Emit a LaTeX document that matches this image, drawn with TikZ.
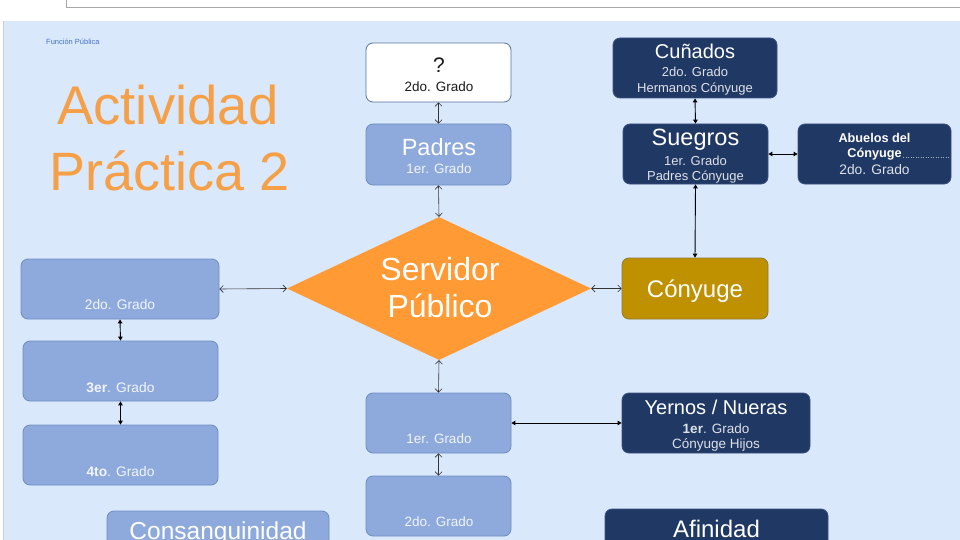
\documentclass[tikz,border=0pt]{standalone}
\usepackage{fontspec}
\setmainfont{Liberation Sans}
\usetikzlibrary{arrows.meta,shapes.geometric}
\definecolor{slidebg}{HTML}{DAE8FC}
\definecolor{lightfill}{HTML}{8EA9DB}
\definecolor{lightedge}{HTML}{6C8EBF}
\definecolor{darkfill}{HTML}{203864}
\definecolor{darkedge}{HTML}{3A5180}
\definecolor{goldfill}{HTML}{BF9000}
\definecolor{goldedge}{HTML}{8D7A34}
\definecolor{titleorange}{HTML}{F5A047}
\definecolor{diamondfill}{HTML}{FF9A35}
\definecolor{smallblue}{HTML}{4472C4}
\definecolor{wordsdark}{HTML}{1A1A1A}
\tikzset{
  box/.style={rounded corners=7pt, line width=0.8pt, inner sep=0pt},
  lbox/.style={box, fill=lightfill, draw=lightedge},
  dbox/.style={box, fill=darkfill, draw=darkedge},
  wbox/.style={box, fill=white, draw=lightedge!80!black},
  gbox/.style={box, fill=goldfill, draw=goldedge},
  txt/.style={anchor=base, inner sep=0pt, text=white},
  openlink/.style={line width=0.6pt, draw=black!80, {Straight Barb[length=3.5pt,width=7pt]}-{Straight Barb[length=3.5pt,width=7pt]}},
  filllink/.style={line width=0.9pt, draw=black, {Triangle[length=4pt,width=4.5pt]}-{Triangle[length=4pt,width=4.5pt]}},
}
\begin{document}
\begin{tikzpicture}[x=1pt,y=-1pt]
\useasboundingbox (0,0) rectangle (960,540);
\clip (0,0) rectangle (960,540);
% window chrome
\fill[white] (0,0) rectangle (960,21);
\draw[black!35, line width=0.8pt] (66,0) -- (66,7) -- (960,7);
\draw[black!25, line width=0.8pt] (3,21) -- (960,21);
\fill[slidebg] (3,21) rectangle (960,540);
\draw[black!20, line width=0.8pt] (3,21) -- (3,540);
% header texts
\node[anchor=base west, inner sep=0pt, text=smallblue, font=\fontsize{7.5}{9}\selectfont] (hdr) at (46,45) {Función Pública};
\node[anchor=base west, inner sep=0pt, text=titleorange, font=\fontsize{54.5}{60}\selectfont] (t1) at (57,125) {Actividad};
\node[anchor=base west, inner sep=0pt, text=titleorange, font=\fontsize{54}{60}\selectfont] (t2) at (49,190) {Práctica 2};
% centre column
\node[wbox, minimum width=145pt, minimum height=59pt] (q) at (438.5,72.5) {};
\node[txt, text=wordsdark, font=\fontsize{21}{24}\selectfont] at (439,73) {?};
\node[txt, text=wordsdark, font=\fontsize{13.5}{16}\selectfont] at (439,92) {2do. Grado};
\node[lbox, minimum width=145pt, minimum height=61pt] (pad) at (438.5,154.5) {};
\node[txt, font=\fontsize{23.5}{26}\selectfont] at (439,156) {Padres};
\node[txt, text=white!88!lightfill, font=\fontsize{13.5}{16}\selectfont] at (439,174) {1er. Grado};
\node[diamond, fill=diamondfill, minimum width=304pt, minimum height=143pt, inner sep=0pt, aspect=2.1] (sp) at (439,288.5) {};
\node[txt, font=\fontsize{32}{36}\selectfont] at (440,280) {Servidor};
\node[txt, font=\fontsize{32}{36}\selectfont] at (440,317) {Público};
\node[lbox, minimum width=145pt, minimum height=60pt] (h1) at (438.5,423) {};
\node[txt, text=white!88!lightfill, font=\fontsize{13.5}{16}\selectfont] at (439,443) {1er. Grado};
\node[lbox, minimum width=145pt, minimum height=60pt] (h2) at (438.5,506) {};
\node[txt, text=white!88!lightfill, font=\fontsize{13.5}{16}\selectfont] at (439,526) {2do. Grado};
% left column
\node[lbox, minimum width=198pt, minimum height=60pt] (l1) at (120,289) {};
\node[txt, text=white!88!lightfill, font=\fontsize{13.8}{16}\selectfont] at (120,309) {2do. Grado};
\node[lbox, minimum width=195pt, minimum height=60pt] (l2) at (120.5,371) {};
\node[txt, text=white!88!lightfill, font=\fontsize{13.8}{16}\selectfont] at (120.5,392) {\textbf{3er}. Grado};
\node[lbox, minimum width=195pt, minimum height=60pt] (l3) at (120.5,455) {};
\node[txt, text=white!88!lightfill, font=\fontsize{13.8}{16}\selectfont] at (120.5,476) {\textbf{4to}. Grado};
\node[lbox, minimum width=222pt, minimum height=50pt] (cons) at (218,536) {};
\node[txt, font=\fontsize{24.5}{28}\selectfont] at (218,539) {Consanguinidad};
% right side
\node[dbox, minimum width=164pt, minimum height=60pt] (cun) at (695,68) {};
\node[txt, font=\fontsize{20}{23}\selectfont] at (695,59) {Cuñados};
\node[txt, text=white!85!darkfill, font=\fontsize{13}{15}\selectfont] at (695,77) {2do. Grado};
\node[txt, text=white!85!darkfill, font=\fontsize{13}{15}\selectfont] at (695,93) {Hermanos Cónyuge};
\node[dbox, minimum width=145pt, minimum height=60pt] (sue) at (695.5,154) {};
\node[txt, font=\fontsize{23.5}{26}\selectfont] at (695.5,146) {Suegros};
\node[txt, text=white!85!darkfill, font=\fontsize{13}{15}\selectfont] at (695.5,165) {1er. Grado};
\node[txt, text=white!85!darkfill, font=\fontsize{13}{15}\selectfont] at (695.5,181) {Padres Cónyuge};
\node[dbox, minimum width=153pt, minimum height=60pt] (abu) at (874.5,154) {};
\node[txt, font=\bfseries\fontsize{12.7}{15}\selectfont] at (874.5,143) {Abuelos del};
\node[txt, font=\bfseries\fontsize{12.7}{15}\selectfont] at (874.5,158) {Cónyuge};
\draw[white!60!darkfill, line width=0.5pt, dotted] (903,157) -- (950,157);
\node[txt, text=white!85!darkfill, font=\fontsize{13.8}{16}\selectfont] at (874.5,175) {2do. Grado};
\node[gbox, minimum width=146pt, minimum height=61pt] (con) at (695,288.5) {};
\node[txt, font=\fontsize{24}{27}\selectfont] at (695,297) {Cónyuge};
\node[dbox, minimum width=188pt, minimum height=60pt] (yer) at (716,423) {};
\node[txt, font=\fontsize{20}{23}\selectfont] at (716,414) {Yernos / Nueras};
\node[txt, text=white!85!darkfill, font=\fontsize{13.5}{16}\selectfont] at (716,433) {\textbf{1er}. Grado};
\node[txt, text=white!85!darkfill, font=\fontsize{13.5}{16}\selectfont] at (716,448) {Cónyuge Hijos};
\node[dbox, minimum width=223pt, minimum height=50pt] (afi) at (716.5,534) {};
\node[txt, font=\fontsize{24}{27}\selectfont] at (716.5,537) {Afinidad};
% connectors
\draw[openlink] (q.south) -- (pad.north);
\draw[openlink] (pad.south) -- (sp.north);
\draw[openlink] (l1.east) -- (sp.west);
\draw[openlink] (sp.east) -- (con.west);
\draw[openlink] (sp.south) -- (h1.north);
\draw[openlink] (h1.south) -- (h2.north);
\draw[filllink] (l1.south) -- (l2.north);
\draw[filllink] (l2.south) -- (l3.north);
\draw[filllink] (cun.south) -- (sue.north);
\draw[filllink] (sue.south) -- (con.north);
\draw[filllink] (sue.east) -- (abu.west);
\draw[filllink] (h1.east) -- (yer.west);
\end{tikzpicture}
\end{document}
